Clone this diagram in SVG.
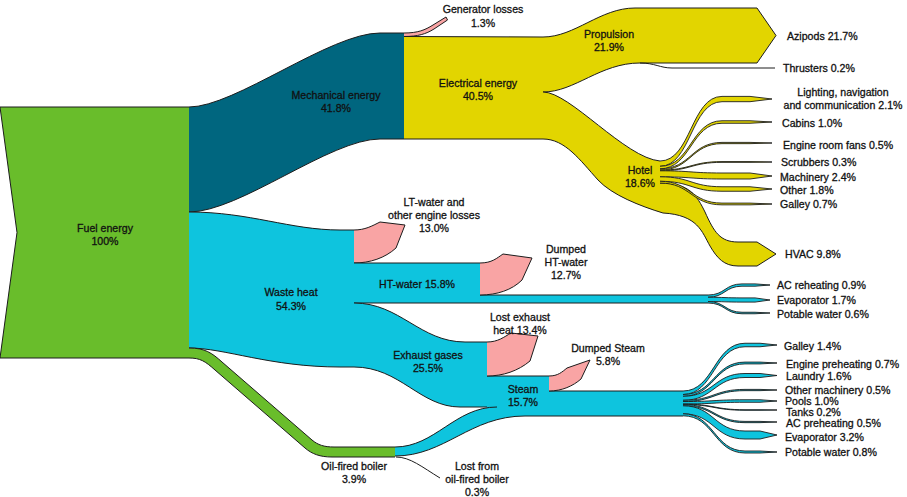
<svg xmlns="http://www.w3.org/2000/svg" width="907" height="497" viewBox="0 0 907 497">
<style>
text{font-family:"Liberation Sans",Arial,sans-serif;font-size:10.6px;fill:#111;stroke:#111;stroke-width:0.3px}
.m{text-anchor:middle}
.e{fill:none;stroke:#1c1c1c;stroke-width:1;stroke-linejoin:round}
.g{fill:#69bd2b}
.t{fill:#00667f}
.y{fill:#e2d500}
.c{fill:#0ec4de}
.p{fill:#f9a4a4;stroke:#1c1c1c;stroke-width:1;stroke-linejoin:round}
.fy{fill:#e2d500;stroke:#1c1c1c;stroke-width:0.9;stroke-linejoin:round}
.fc{fill:#0ec4de;stroke:#1c1c1c;stroke-width:0.9;stroke-linejoin:round}
</style>
<rect width="907" height="497" fill="#fff"/>

<g id="fuel">
<path class="g" d="M0,107 L189,107 L189,358 L0,358 L17,232.5 Z"/>
<path class="e" d="M189,107 L0,107 L17,232.5 L0,358 L189,358"/>
<text class="m" x="105" y="232">Fuel energy</text>
<text class="m" x="105" y="245">100%</text>
</g>

<g id="mechanical">
<path class="t" d="M189,107 C235,107 330,33 380,33 L404,33 L404,139 L380,139 C330,139 240,212 189,212 Z"/>
<path class="e" d="M189,107 C235,107 330,33 380,33 L404,33 M189,212 C240,212 330,139 380,139 L404,139"/>
<text class="m" x="336" y="99">Mechanical energy</text>
<text class="m" x="336" y="112">41.8%</text>
</g>

<g id="generator-losses">
<path class="p" d="M404,33 C418,33 425,30 433,25 L446,17 L447.5,20 L434,29 C426,34 418,36.5 404,36.5"/>
<text class="m" x="483" y="13">Generator losses</text>
<text class="m" x="483" y="27">1.3%</text>
</g>

<g id="electrical">
<path class="y" d="M404,36.5 L543,37 L543,139 L404,139 Z"/>
<path class="e" d="M404,36.5 L543,37 M404,139 L543,139"/>
<text class="m" x="478" y="87">Electrical energy</text>
<text class="m" x="478" y="100">40.5%</text>
</g>

<g id="propulsion">
<path class="y" d="M543,37 C575,37 600,8 635,8 L757,8 L776,35.5 L757,63 L640,63 C600,63 575,92 543,92 Z"/>
<path class="e" d="M543,37 C575,37 600,8 635,8 L757,8 L776,35.5 L757,63 L640,63 C600,63 575,92 543,92"/>
<text class="m" x="609" y="38">Propulsion</text>
<text class="m" x="609" y="51">21.9%</text>
</g>

<g id="hotel">
<path class="y" d="M543,92 C570,92 625,158 660,161 L660,183 C690,183 697,196 705,212 C714,232 720,242 738,242 L757,242 L776,254 L757,266 L738,266 C724,266 717,258 710,246 C702,232 698,215 663,213 C640,206 612,195 598,180 C580,160 565,139 543,139 Z"/>
<path class="e" d="M543,92 C570,92 625,158 660,161 M660,183 C690,183 697,196 705,212 C714,232 720,242 738,242 L757,242 L776,254 L757,266 L738,266 C724,266 717,258 710,246 C702,232 698,215 663,213 C640,206 612,195 598,180 C580,160 565,139 543,139"/>
<text class="m" x="640" y="174">Hotel</text>
<text class="m" x="640" y="187">18.6%</text>
</g>

<g id="waste-heat">
<path class="c" d="M189,212 C250,212 290,230 340,230 L355,230 L355,367 L340,367 C270,367 225,348 189,348 Z"/>
<path class="e" d="M189,212 C250,212 290,230 340,230 L354,230 M189,348 C225,348 270,367 340,367 L354,367"/>
<text class="m" x="291" y="296">Waste heat</text>
<text class="m" x="291" y="310">54.3%</text>
</g>

<g id="lt-water">
<path class="p" d="M354,230 C365,230 372,226 380,222 L405,225 L396,248 C385,258 370,263 354,263"/>
<text class="m" x="434" y="206">LT-water and</text>
<text class="m" x="434" y="219">other engine losses</text>
<text class="m" x="434" y="232">13.0%</text>
</g>

<g id="ht-water">
<path class="c" d="M354,263 L480,263 L480,295 L708,295 L708,303 L354,303 Z"/>
<path class="e" d="M354,263 L480,263 M480,295 L708,295 M708,303 L354,303"/>
<text class="m" x="417" y="288">HT-water 15.8%</text>
</g>

<g id="dumped-ht-water">
<path class="p" d="M480,263 C492,263 497,258 503,254 L532,258 L522,280 C512,290 497,295 480,295"/>
<text class="m" x="566" y="253">Dumped</text>
<text class="m" x="566" y="266">HT-water</text>
<text class="m" x="566" y="279">12.7%</text>
</g>

<g id="exhaust-gases">
<path class="c" d="M354,303 C400,303 420,342 465,342 L487,342 L487,407 L460,407 C420,407 400,367 354,367 Z"/>
<path class="e" d="M354,303 C400,303 420,342 465,342 L487,342 M354,367 C400,367 420,407 460,407 L497,407"/>
<text class="m" x="428" y="359">Exhaust gases</text>
<text class="m" x="428" y="372">25.5%</text>
</g>

<g id="steam">
<path class="c" d="M487,376 L549,376 L549,391 L683,391 L683,416 L487,416 Z"/>
<path class="e" d="M487,376 L549,376 M549,391 L683,391"/>
</g>

<g id="oil-fired-boiler">
<path class="g" d="M189,348 C205,348 212,353 222,362 L312,440 C318,445 324,447 334,447 L395,447 L395,457 L332,457 C320,457 312,454 305,448 L215,370 C205,361 200,358 189,358 Z"/>
<path class="c" d="M395,447 C435,447 455,407 497,407 L525,407 L525,416 C470,416 445,456 395,456 Z"/>
<path class="e" d="M189,348 C205,348 212,353 222,362 L312,440 C318,445 324,447 334,447 L395,447 C435,447 455,407 497,407 M189,358 C200,358 205,361 215,370 L305,448 C312,454 320,457 332,457 L395,457 M395,456 C445,456 470,416 525,416 L683,416"/>
<text class="m" x="354" y="470">Oil-fired boiler</text>
<text class="m" x="354" y="483">3.9%</text>
</g>

<g id="lost-exhaust-heat">
<path class="p" d="M487,342 C498,342 504,337 511,333 L538,336 L530,361 C518,371 503,376 487,376"/>
<text class="m" x="520" y="321">Lost exhaust</text>
<text class="m" x="520" y="334">heat 13.4%</text>
</g>

<g id="dumped-steam">
<path class="p" d="M549,376 C558,376 562,372 567,368 L590,360 L581,379 C573,386 562,391 549,391"/>
<text class="m" x="608" y="352">Dumped Steam</text>
<text class="m" x="608" y="365">5.8%</text>
</g>

<g id="steam-label">
<text class="m" x="523" y="393">Steam</text>
<text class="m" x="523" y="406">15.7%</text>
</g>

<g id="lost-oil-boiler">
<text class="m" x="477" y="470">Lost from</text>
<text class="m" x="477" y="483">oil-fired boiler</text>
<text class="m" x="477" y="496">0.3%</text>
</g>

<g id="connectors">
<path class="e" d="M640,63 C655,63 660,68 672,68 L775,68"/>
<path class="e" d="M396,457 C410,457 422,467 440,478"/>
<path class="fy" d="M660,161 C691,161 691,96.4 722,96.4 L750,96.4 L772,99 L750,101.7 L722,101.7 C691,101.7 691,166.3 660,166.3"/>
<path class="fy" d="M660,166.3 C691,166.3 691,120.75 722,120.75 L750,120.75 L772,122 L750,123.25 L722,123.25 C691,123.25 691,168.8 660,168.8"/>
<path class="fy" d="M660,168.8 C691,168.8 691,142.4 722,142.4 L750,142.4 L772,143 L750,143.65 L722,143.65 C691,143.65 691,170.05 660,170.05"/>
<path class="fy" d="M660,170.05 C691,170.05 691,161.6 722,161.6 L750,161.6 L772,162 L750,162.35 L722,162.35 C691,162.35 691,170.8 660,170.8"/>
<path class="fy" d="M660,170.8 C691,170.8 691,173 722,173 L750,173 L772,176 L750,179 L722,179 C691,179 691,176.8 660,176.8"/>
<path class="fy" d="M660,176.8 C691,176.8 691,186.75 722,186.75 L750,186.75 L772,189 L750,191.25 L722,191.25 C691,191.25 691,181.3 660,181.3"/>
<path class="fy" d="M660,181.3 C691,181.3 691,203.1 722,203.1 L750,203.1 L772,204 L750,204.85 L722,204.85 C691,204.85 691,183.05 660,183.05"/>
<path class="fc" d="M708,295 C725,295 725,283.9 742,283.9 L755,283.9 L770,285 L755,286.2 L742,286.2 C725,286.2 725,297.26 708,297.26"/>
<path class="fc" d="M708,297.26 C725,297.26 725,297.9 742,297.9 L755,297.9 L770,300 L755,302.1 L742,302.1 C725,302.1 725,301.53 708,301.53"/>
<path class="fc" d="M708,301.53 C725,301.53 725,312.25 742,312.25 L755,312.25 L770,313 L755,313.75 L742,313.75 C725,313.75 725,303.03 708,303.03"/>
<path class="fc" d="M683,391 C714,391 714,343.25 745,343.25 L760,343.25 L777,345 L760,346.75 L745,346.75 C714,346.75 714,394.5 683,394.5"/>
<path class="fc" d="M683,394.5 C714,394.5 714,362.1 745,362.1 L760,362.1 L777,363 L760,363.9 L745,363.9 C714,363.9 714,396.3 683,396.3"/>
<path class="fc" d="M683,396.3 C714,396.3 714,373.5 745,373.5 L760,373.5 L777,375.5 L760,377.5 L745,377.5 C714,377.5 714,400.3 683,400.3"/>
<path class="fc" d="M683,400.3 C714,400.3 714,389.4 745,389.4 L760,389.4 L777,390 L760,390.65 L745,390.65 C714,390.65 714,401.55 683,401.55"/>
<path class="fc" d="M683,401.55 C714,401.55 714,399.75 745,399.75 L760,399.75 L777,401 L760,402.25 L745,402.25 C714,402.25 714,404.05 683,404.05"/>
<path class="fc" d="M683,404.05 C714,404.05 714,409.75 745,409.75 L760,409.75 L777,410 L760,410.25 L745,410.25 C714,410.25 714,404.55 683,404.55"/>
<path class="fc" d="M683,404.55 C714,404.55 714,421.4 745,421.4 L760,421.4 L777,422 L760,422.65 L745,422.65 C714,422.65 714,405.8 683,405.8"/>
<path class="fc" d="M683,405.8 C714,405.8 714,431 745,431 L760,431 L777,435 L760,439 L745,439 C714,439 714,413.8 683,413.8"/>
<path class="fc" d="M683,413.8 C714,413.8 714,451 745,451 L760,451 L777,452 L760,453 L745,453 C714,453 714,415.8 683,415.8"/>
</g>

<g id="outputs">
<text x="787" y="40">Azipods 21.7%</text>
<text x="783" y="72">Thrusters 0.2%</text>
<text class="m" x="843" y="96">Lighting, navigation</text>
<text class="m" x="843" y="109">and communication 2.1%</text>
<text x="782" y="127">Cabins 1.0%</text>
<text x="783" y="149">Engine room fans 0.5%</text>
<text x="781" y="166">Scrubbers 0.3%</text>
<text x="780" y="181">Machinery 2.4%</text>
<text x="780" y="194">Other 1.8%</text>
<text x="780" y="208">Galley 0.7%</text>
<text x="785" y="258">HVAC 9.8%</text>
<text x="777" y="289">AC reheating 0.9%</text>
<text x="777" y="304">Evaporator 1.7%</text>
<text x="777" y="318">Potable water 0.6%</text>
<text x="784" y="350">Galley 1.4%</text>
<text x="786" y="368">Engine preheating 0.7%</text>
<text x="786" y="380">Laundry 1.6%</text>
<text x="785" y="393.5">Other machinery 0.5%</text>
<text x="785" y="405">Pools 1.0%</text>
<text x="786" y="416">Tanks 0.2%</text>
<text x="786" y="427">AC preheating 0.5%</text>
<text x="785" y="440.5">Evaporator 3.2%</text>
<text x="785" y="456">Potable water 0.8%</text>
</g>
</svg>
